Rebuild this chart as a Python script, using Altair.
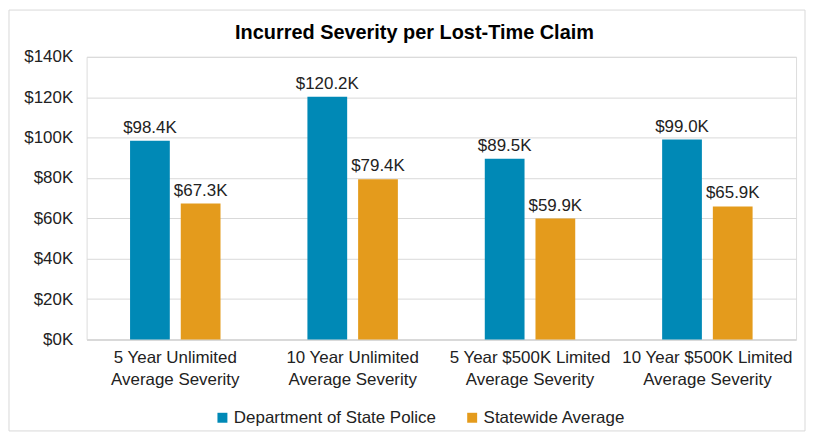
import altair as alt
import pandas as pd

categories = [
    "5 Year Unlimited Average Severity",
    "10 Year Unlimited Average Severity",
    "5 Year $500K Limited Average Severity",
    "10 Year $500K Limited Average Severity",
]
series = ["Department of State Police", "Statewide Average"]
police = [98.4, 120.2, 89.5, 99.0]
statewide = [67.3, 79.4, 59.9, 65.9]
y_ticks = [0, 20, 40, 60, 80, 100, 120, 140]
colors = ["#0089B6", "#E49B1C"]

rows = []
for c, p, s in zip(categories, police, statewide):
    rows.append({"category": c, "series": series[0], "value": p, "label": f"${p:.1f}K"})
    rows.append({"category": c, "series": series[1], "value": s, "label": f"${s:.1f}K"})
df = pd.DataFrame(rows)

FONT = "Liberation Sans"
TXT = "#222222"

x_enc = alt.X(
    "category:N",
    sort=categories,
    title=None,
    scale=alt.Scale(paddingInner=0.49, paddingOuter=0.245),
    axis=alt.Axis(
        labelAngle=0,
        labelExpr="[replace(datum.label, ' Average Severity', ''), 'Average Severity']",
        labelFontSize=17,
        labelLineHeight=22,
        labelPadding=10,
        labelColor=TXT,
        labelFont=FONT,
        ticks=False,
        domainColor="#d9d9d9",
        domainWidth=2,
        grid=False,
    ),
)
xoff = alt.XOffset("series:N", sort=series, scale=alt.Scale(paddingInner=0.216, paddingOuter=0))
y_enc = alt.Y(
    "value:Q",
    title=None,
    scale=alt.Scale(domain=[0, 140], nice=False),
    axis=alt.Axis(
        values=y_ticks,
        labelExpr="'$' + datum.value + 'K'",
        labelFontSize=17,
        labelPadding=14,
        labelColor=TXT,
        labelFont=FONT,
        ticks=False,
        domain=False,
        gridColor="#d9d9d9",
        gridWidth=1,
    ),
)

border = alt.Chart(pd.DataFrame({"a": [0]})).mark_rect(
    filled=False, stroke="#d9d9d9", strokeWidth=1
).encode(
    x=alt.value(-78), x2=alt.value(722), y=alt.value(-47), y2=alt.value(376)
)

bars = alt.Chart(df).mark_bar().encode(
    x=x_enc,
    xOffset=xoff,
    y=y_enc,
    color=alt.Color(
        "series:N",
        sort=series,
        scale=alt.Scale(domain=series, range=colors),
        legend=alt.Legend(
            title=None,
            orient="none",
            legendX=128,
            legendY=354,
            direction="horizontal",
            symbolType="square",
            symbolSize=100,
            symbolStrokeWidth=0,
            labelFontSize=17,
            labelFont=FONT,
            labelColor=TXT,
            labelOffset=3,
            labelLimit=400,
            columnPadding=27,
        ),
    ),
)

labels = alt.Chart(df).mark_text(
    baseline="alphabetic", dy=-8, fontSize=17, font=FONT, color=TXT
).encode(
    x=alt.X("category:N", sort=categories),
    xOffset=alt.XOffset("series:N", sort=series),
    y="value:Q",
    text="label:N",
)

chart = alt.layer(border, bars, labels).properties(
    width=713,
    height=284,
    autosize=alt.AutoSizeParams(type="none"),
    padding={"left": 79, "top": 48, "right": 10, "bottom": 93},
    title=alt.TitleParams(
        "Incurred Severity per Lost-Time Claim",
        fontSize=20,
        font=FONT,
        fontWeight="bold",
        color="#000000",
        offset=-34,
        dx=-27,
    ),
).configure_view(stroke=None).configure(background="white")

chart.save("out.html", embed_options={"renderer": "svg", "actions": False})
